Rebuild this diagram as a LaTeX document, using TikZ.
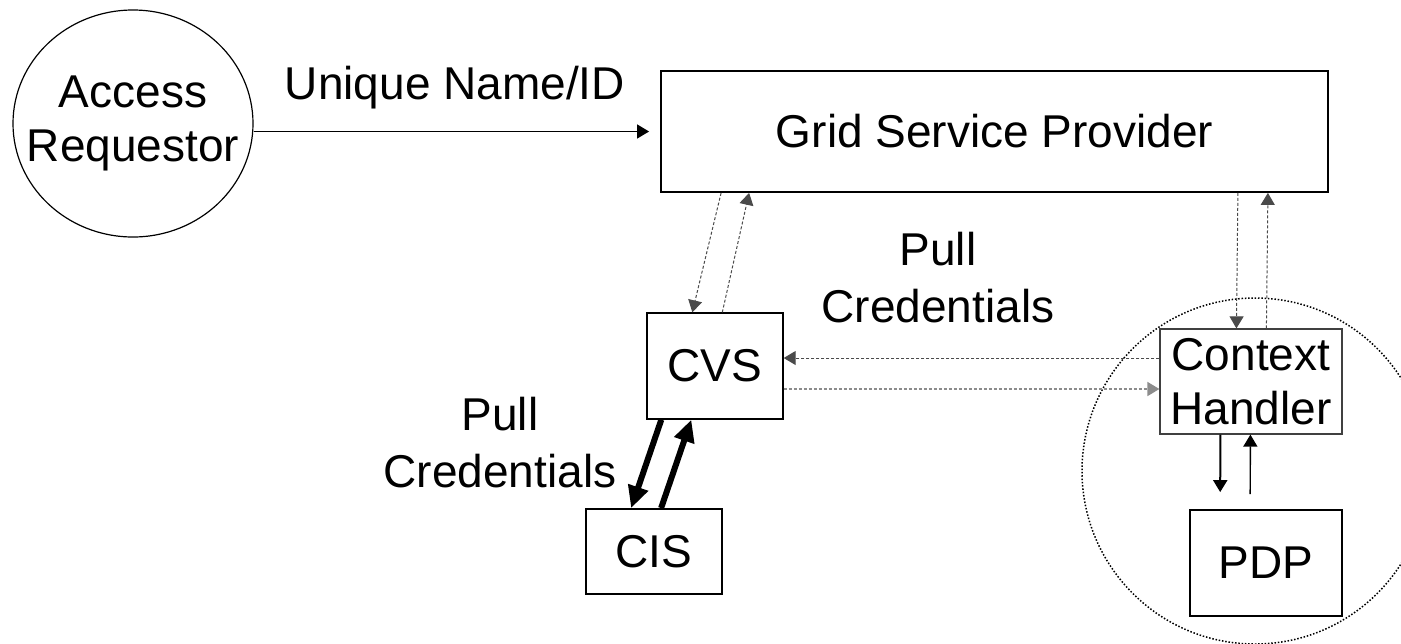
\documentclass[tikz,border=0pt]{standalone}
\usepackage{fontspec}
\setmainfont{Liberation Sans}
\usetikzlibrary{arrows.meta,positioning,shapes.geometric,calc}
\definecolor{dotgray}{HTML}{4A4A4A}
\definecolor{lightdot}{HTML}{8C8C8C}

\begin{document}
\begin{tikzpicture}[x=0.5pt, y=-0.5pt,
  box/.style={rectangle, draw, line width=0.9pt, inner sep=0pt, align=center},
  lbl/.style={inner sep=0pt, align=center, font=\fontsize{23}{28.5}\selectfont},
  tip/.style={-{Triangle[length=6pt,width=7pt]}},
  weak/.style={tip, dotgray, line width=0.5pt, dash pattern=on 1.5pt off 1pt},
  heavy/.style={-{Triangle[length=11pt,width=10pt]}, line width=3pt},
  font=\fontsize{23}{27}\selectfont
]
  \useasboundingbox (0,0) rectangle (1401,643);
  \clip (0,0) rectangle (1401,643);
  % parties
  \node[box, ellipse, line width=0.6pt, minimum width=120pt, minimum height=113.5pt] (req) at (133,123.5)
    {\raisebox{-2pt}{\makebox[0pt]{Access}}\\\raisebox{-2pt}{\makebox[0pt]{Requestor}}};
  \node[box, minimum width=333.5pt, minimum height=60.5pt] (gsp) at (994.5,131.5) {Grid Service Provider};
  \node[box, line width=0.7pt, minimum width=68pt, minimum height=53pt] (cvs) at (715,366) {CVS};
  \node[box, minimum width=68pt, minimum height=42.5pt] (cis) at (654,551.5) {CIS};
  \node[box, line width=0.6pt, draw=black!75, minimum width=91pt, minimum height=52.5pt] (ch) at (1251,381.5) {Context\\Handler};
  \node[box, minimum width=76pt, minimum height=53pt] (pdp) at (1266,563) {PDP};
  % policy enforcement boundary
  \draw[line width=0.75pt, dash pattern=on 0.75pt off 0.9pt] (1255,471) circle [radius=86.5pt];
  % labels
  \node[lbl, anchor=base] (uid) at (455,99) {Unique Name/ID};
  \node[lbl, anchor=north] (pullup) at (938,232) {Pull\\Credentials};
  \node[lbl, anchor=north] (pulllow) at (500,396.5) {Pull\\Credentials};
  % request
  \draw[tip, line width=0.6pt, shorten >=5.5pt] (req.east |- gsp.west) -- (gsp.west);
  % grid service provider <-> cvs / context handler
  \draw[weak] ($(gsp.south west)+(61,0)$) -- ($(cvs.north west)+(46,0)$);
  \draw[weak] ($(cvs.north west)+(76,0)$) -- ($(gsp.south west)+(89,0)$);
  \draw[weak] ($(gsp.south east)+(-91,0)$) -- ($(ch.north west)+(77,0)$);
  \draw[weak] ($(ch.north west)+(107,0)$) -- ($(gsp.south east)+(-61,0)$);
  % cvs <-> context handler
  \draw[weak] ($(ch.west)+(0,-23.5)$) coordinate (chin) -- (cvs.east |- chin);
  \draw[weak, lightdot, line width=0.8pt] ($(cvs.east)+(0,23)$) coordinate (cvsout) -- (ch.west |- cvsout);
  % cvs <-> cis
  \draw[heavy] ($(cvs.south west)+(15,0)$) -- ($(cis.north west)+(46,0)$);
  \draw[heavy] ($(cis.north west)+(76,0)$) -- ($(cvs.south west)+(45,0)$);
  % context handler <-> pdp
  \draw[tip, line width=1pt, shorten >=8.5pt] ($(ch.south west)+(61,0)$) -- ($(pdp.north west)+(31,0)$);
  \draw[tip, line width=0.7pt, shorten <=7.5pt] ($(pdp.north west)+(61,0)$) -- ($(ch.south west)+(91,0)$);
\end{tikzpicture}
\end{document}
